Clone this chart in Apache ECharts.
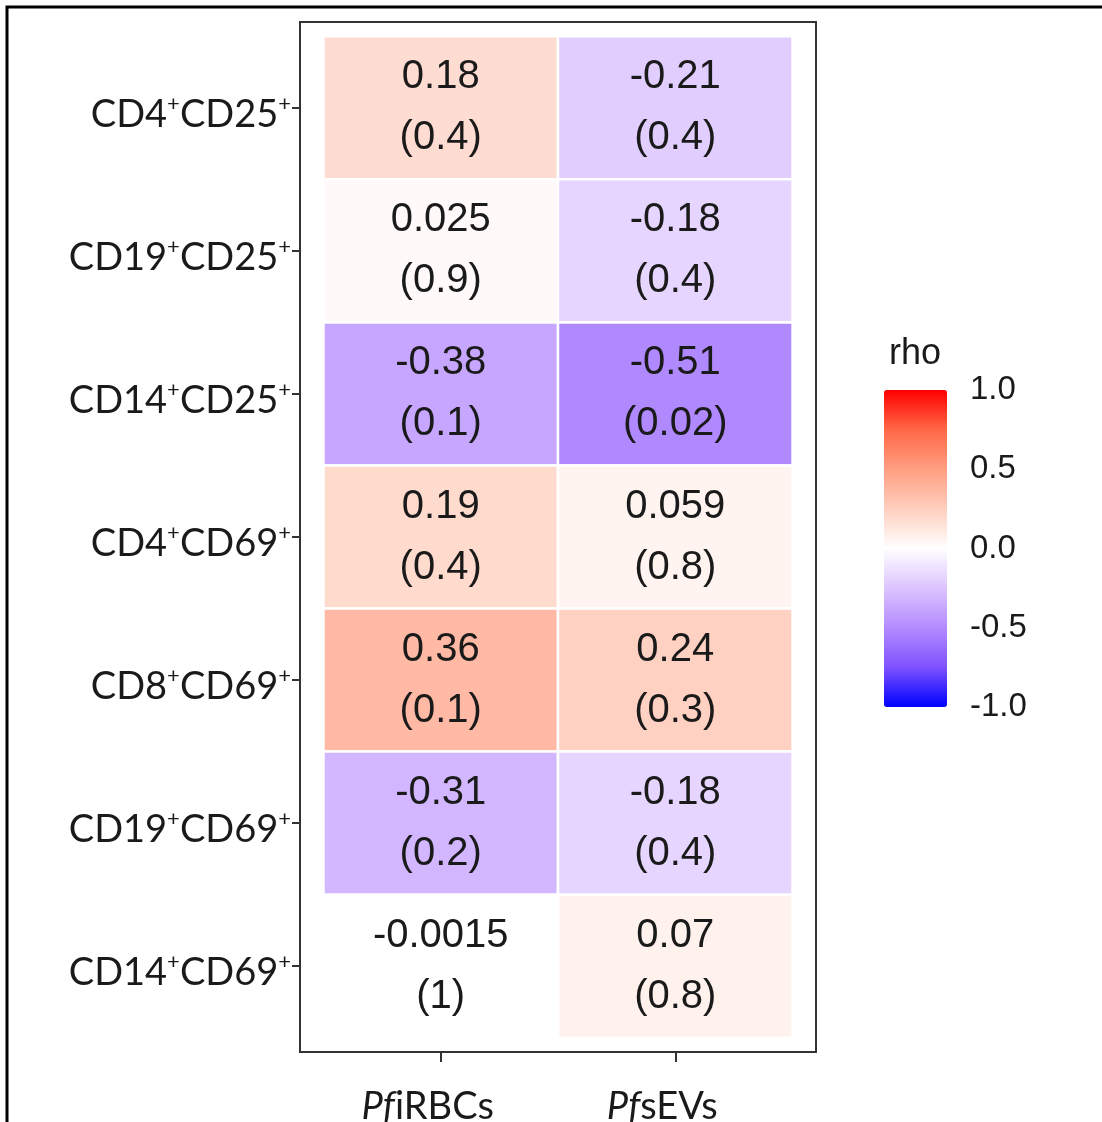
<!DOCTYPE html>
<html>
<head>
<meta charset="utf-8">
<script src="https://cdn.jsdelivr.net/npm/echarts@6/dist/echarts.min.js"></script>
<style>
  html, body { margin: 0; padding: 0; background: #fff; }
  #main { width: 1102px; height: 1122px; }
</style>
</head>
<body>
<div id="main"></div>
<script>
// cell types (rows, top to bottom) and stimuli (columns)
var rows = ['CD4+CD25+', 'CD19+CD25+', 'CD14+CD25+', 'CD4+CD69+', 'CD8+CD69+', 'CD19+CD69+', 'CD14+CD69+'];
var cols = ['PfiRBCs', 'PfsEVs'];
// spearman rho and p values per column
var rhoIRBC = [0.18, 0.025, -0.38, 0.19, 0.36, -0.31, -0.0015];
var pIRBC = [0.4, 0.9, 0.1, 0.4, 0.1, 0.2, 1];
var rhoEV = [-0.21, -0.18, -0.51, 0.059, 0.24, -0.18, 0.07];
var pEV = [0.4, 0.4, 0.02, 0.8, 0.3, 0.4, 0.8];

var cells = [];
rows.forEach(function (r, i) {
    cells.push([1, i + 1, rhoIRBC[i], pIRBC[i]]);
    cells.push([2, i + 1, rhoEV[i], pEV[i]]);
});

var txt = '#1a1a1a';

// "CD4+CD25+" -> rich text with superscript plus
function rowLabel(name) {
    return name.split('+').filter(function (s) { return s.length; })
        .map(function (s) { return '{b|' + s + '}{s|+}'; }).join('');
}

var chart = echarts.init(document.getElementById('main'));
chart.setOption({
    animation: false,
    graphic: [{
        type: 'polyline',
        shape: { points: [[7, 1122], [7, 7], [1102, 7]] },
        style: { stroke: '#000', lineWidth: 3, fill: null }
    }],
    title: {
        text: 'rho', left: 889, top: 336, padding: 0,
        textStyle: { fontFamily: 'Liberation Sans', fontSize: 36, fontWeight: 'normal', color: txt }
    },
    grid: [
        { left: 300, top: 22, width: 516, height: 1030, outerBoundsMode: 'none', show: true, borderColor: '#333', borderWidth: 2, backgroundColor: 'transparent' },
        { left: 884, top: 390, width: 63, height: 317, outerBoundsMode: 'none', show: false }
    ],
    xAxis: [{
        gridIndex: 0, type: 'value', min: 0.4, max: 2.6,
        axisLine: { lineStyle: { color: '#333', width: 2 } },
        axisTick: { customValues: [1, 2], length: 10, lineStyle: { color: '#333', width: 2 } },
        splitLine: { show: false },
        axisLabel: {
            customValues: [1, 2], margin: 36, padding: [0, 26, 0, 0],
            formatter: function (v) {
                var c = cols[v - 1];
                return '{i|' + c.slice(0, 2) + '}{n|' + c.slice(2) + '}';
            },
            rich: {
                i: { fontFamily: 'Lato', fontSize: 38, fontStyle: 'italic', color: txt },
                n: { fontFamily: 'Lato', fontSize: 38, color: txt }
            }
        }
    }, {
        gridIndex: 1, type: 'value', min: 0, max: 1, show: false
    }],
    yAxis: [{
        gridIndex: 0, type: 'value', min: 0.4, max: 7.6, inverse: true,
        axisLine: { lineStyle: { color: '#333', width: 2 } },
        axisTick: { customValues: [1, 2, 3, 4, 5, 6, 7], length: 8, lineStyle: { color: '#333', width: 2 } },
        splitLine: { show: false },
        axisLabel: {
            customValues: [1, 2, 3, 4, 5, 6, 7], margin: 9, padding: [14, 0, 0, 0],
            formatter: function (v) { return rowLabel(rows[v - 1]); },
            rich: {
                b: { fontFamily: 'Lato', fontSize: 38, lineHeight: 44, color: txt },
                s: { fontFamily: 'Lato', fontSize: 22, lineHeight: 22, verticalAlign: 'top', color: txt }
            }
        }
    }, {
        gridIndex: 1, type: 'value', min: -1, max: 1, interval: 0.5, position: 'right',
        axisLine: { show: false },
        axisTick: { inside: true, length: 12, lineStyle: { color: '#fff', width: 1.5 } },
        splitLine: { show: false },
        axisLabel: {
            margin: 23, fontFamily: 'Liberation Sans', fontSize: 33, color: txt,
            formatter: function (v) { return v.toFixed(1); }
        }
    }, {
        gridIndex: 1, type: 'value', min: -1, max: 1, interval: 0.5, position: 'left',
        axisLine: { show: false },
        axisTick: { inside: true, length: 12, lineStyle: { color: '#fff', width: 1.5 } },
        splitLine: { show: false },
        axisLabel: { show: false }
    }],
    visualMap: {
        type: 'continuous', min: -1, max: 1, calculable: false, hoverLink: false,
        seriesIndex: 0, dimension: 2,
        left: 884, top: 390, padding: 0,
        itemWidth: 63, itemHeight: 317,
        inRange: { color: ['#0000FF', '#7E52FF', '#B38BFF', '#DCC4FF', '#FFFFFF', '#FFCFBF', '#FF9E81', '#FF6846', '#FF0000'] }
    },
    series: [{
        type: 'custom',
        coordinateSystem: 'cartesian2d',
        xAxisIndex: 0, yAxisIndex: 0,
        encode: { x: 0, y: 1 },
        data: cells,
        z: 1,
        renderItem: function (params, api) {
            var c = api.coord([api.value(0), api.value(1)]);
            var s = api.size([1, 1]);
            return {
                type: 'group',
                children: [{
                    type: 'rect',
                    shape: { x: c[0] - s[0] / 2, y: c[1] - s[1] / 2, width: s[0], height: s[1] },
                    style: { fill: api.visual('color'), stroke: '#fff', lineWidth: 2.5 }
                }, {
                    type: 'text',
                    x: c[0], y: c[1],
                    style: {
                        text: String(api.value(2)) + '\n(' + String(api.value(3)) + ')',
                        align: 'center', verticalAlign: 'middle',
                        fontFamily: 'Liberation Sans', fontSize: 40, lineHeight: 61,
                        fill: txt
                    }
                }]
            };
        }
    }]
});
</script>
</body>
</html>
